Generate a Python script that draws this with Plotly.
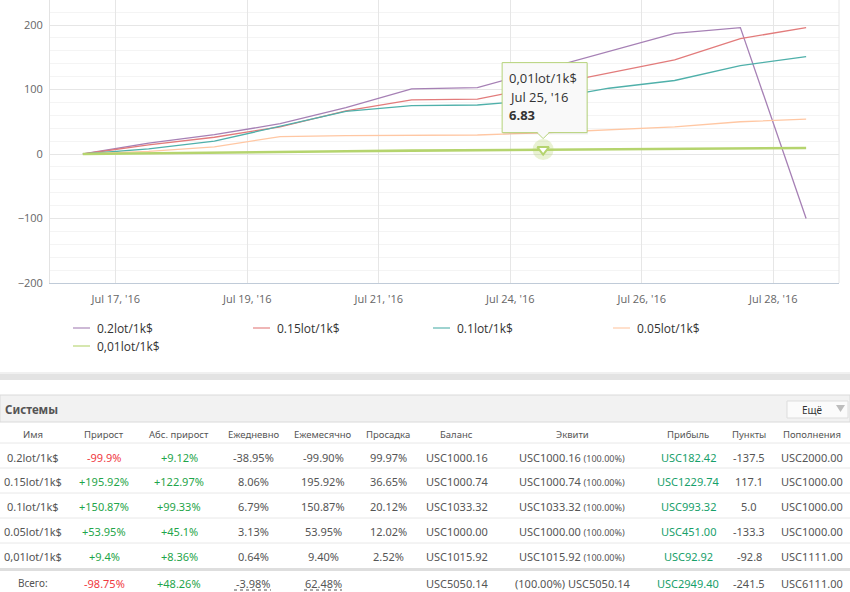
import plotly.graph_objects as go

# ---------------- data ----------------
point_index = list(range(12))
tick_pos = [0.5, 2.5, 4.5, 6.5, 8.5, 10.5]
tick_labels = ["Jul 17, '16", "Jul 19, '16", "Jul 21, '16", "Jul 24, '16", "Jul 26, '16", "Jul 28, '16"]

series_names = ["0.2lot/1k$", "0.15lot/1k$", "0.1lot/1k$", "0.05lot/1k$", "0,01lot/1k$"]
series_colors = ["#a680b5", "#e27b7b", "#4fb0aa", "#ffc7a3", "#b5d46e"]
s_02 = [0, 17, 30, 47, 72, 101, 103, 131, 159, 187, 196, -99.9]
s_015 = [0, 14, 26, 42, 67, 84, 85, 105, 125, 146, 179, 195.9]
s_01 = [0, 8, 20, 43, 66, 75, 76, 84, 102, 114, 137, 150.9]
s_005 = [0, 4, 11, 27, 28.5, 29.5, 29.5, 33, 37, 42, 50, 54]
s_001 = [0, 0.8, 1.8, 3, 4.2, 5.3, 6, 6.83, 7.3, 7.9, 8.6, 9.4]
series_values = [s_02, s_015, s_01, s_005, s_001]

tooltip_index = 7
tooltip_date = "Jul 25, '16"

headers = ["Имя", "Прирост", "Абс. прирост", "Ежедневно", "Ежемесячно", "Просадка",
           "Баланс", "Эквити", "Прибыль", "Пункты", "Пополнения"]
names = ["0.2lot/1k$", "0.15lot/1k$", "0.1lot/1k$", "0.05lot/1k$", "0,01lot/1k$"]
gain = ["-99.9%", "+195.92%", "+150.87%", "+53.95%", "+9.4%"]
abs_gain = ["+9.12%", "+122.97%", "+99.33%", "+45.1%", "+8.36%"]
daily = ["-38.95%", "8.06%", "6.79%", "3.13%", "0.64%"]
monthly = ["-99.90%", "195.92%", "150.87%", "53.95%", "9.40%"]
drawdown = ["99.97%", "36.65%", "20.12%", "12.02%", "2.52%"]
balance = ["USC1000.16", "USC1000.74", "USC1033.32", "USC1000.00", "USC1015.92"]
equity = ["USC1000.16", "USC1000.74", "USC1033.32", "USC1000.00", "USC1015.92"]
equity_pct = ["(100.00%)", "(100.00%)", "(100.00%)", "(100.00%)", "(100.00%)"]
profit = ["USC182.42", "USC1229.74", "USC993.32", "USC451.00", "USC92.92"]
pips = ["-137.5", "117.1", "5.0", "-133.3", "-92.8"]
deposits = ["USC2000.00", "USC1000.00", "USC1000.00", "USC1000.00", "USC1111.00"]
totals = ["Всего:", "-98.75%", "+48.26%", "-3.98%", "62.48%", "", "USC5050.14",
          "(100.00%) USC5050.14", "USC2949.40", "-241.5", "USC6111.00"]

# ---------------- layout helpers ----------------
W, H = 850, 592
def px(x):
    return x / W
def py(y):
    return 1 - y / H

RED = "#f0393f"
GREEN = "#1fa54a"
PROFIT = "#17a06a"
TXT = "#555555"
TFONT = "Noto Sans, sans-serif"
DATA_SIZE = 11
HEAD_SIZE = 9.5

fig = go.Figure()

for name, color, vals in zip(series_names, series_colors, series_values):
    hovered = name == series_names[4]
    fig.add_trace(go.Scatter(
        x=point_index, y=vals, mode="lines", name=name,
        line=dict(color=color, width=2.6 if hovered else 1.3),
        showlegend=False, hoverinfo="skip"))

# hovered point: halo + marker
fig.add_trace(go.Scatter(
    x=[point_index[tooltip_index]], y=[s_001[tooltip_index]], mode="markers",
    marker=dict(symbol="circle", size=21, color=series_colors[4], opacity=0.3,
                line=dict(width=0)),
    showlegend=False, hoverinfo="skip"))
fig.add_trace(go.Scatter(
    x=[point_index[tooltip_index]], y=[s_001[tooltip_index]], mode="markers",
    marker=dict(symbol="triangle-down", size=10, color="#ffffff",
                line=dict(color=series_colors[4], width=2)),
    showlegend=False, hoverinfo="skip"))

shapes = []
annotations = []

# right plot border
shapes.append(dict(type="line", xref="paper", yref="paper",
                   x0=px(839), x1=px(839), y0=py(283), y1=1,
                   line=dict(color="#e6e6e6", width=1)))

# tooltip box (pixel-sized, anchored to the hovered point)
tx, ty = point_index[tooltip_index], s_001[tooltip_index]
shapes.append(dict(type="rect", xref="x", yref="y", xsizemode="pixel", ysizemode="pixel",
                   xanchor=tx, yanchor=ty, x0=-40, x1=45, y0=15, y1=86,
                   fillcolor="rgba(0,0,0,0.06)", line=dict(width=0)))
shapes.append(dict(type="rect", xref="x", yref="y", xsizemode="pixel", ysizemode="pixel",
                   xanchor=tx, yanchor=ty, x0=-41, x1=44, y0=17, y1=87,
                   fillcolor="#f9f9f9", line=dict(color="#b5d37a", width=1)))
shapes.append(dict(type="path", xref="x", yref="y", xsizemode="pixel", ysizemode="pixel",
                   xanchor=tx, yanchor=ty, path="M -6 17 L 0 11 L 6 17",
                   fillcolor="#f9f9f9", line=dict(color="#b5d37a", width=1)))
shapes.append(dict(type="line", xref="x", yref="y", xsizemode="pixel", ysizemode="pixel",
                   xanchor=tx, yanchor=ty, x0=-5, x1=5, y0=17, y1=17,
                   line=dict(color="#f9f9f9", width=1.5)))
for shift, txt in [(72, series_names[4]), (53, tooltip_date), (35, "<b>%.2f</b>" % ty)]:
    annotations.append(dict(x=tx, y=ty, xref="x", yref="y", text=txt, showarrow=False,
                            xanchor="left", yanchor="middle", xshift=-36, yshift=shift,
                            font=dict(family="Open Sans", size=13, color="#333333")))

# legend (drawn manually to match compact symbols)
for i, (name, color) in enumerate(zip(series_names, series_colors)):
    col, row = i % 4, i // 4
    sx = 73 + 180 * col
    yy = 328 + 18 * row
    shapes.append(dict(type="line", xref="paper", yref="paper",
                       x0=px(sx), x1=px(sx + 17), y0=py(yy), y1=py(yy),
                       line=dict(color=color, width=2), opacity=0.55))
    annotations.append(dict(x=px(sx + 22), y=py(yy), xref="paper", yref="paper",
                            text=name, showarrow=False, xanchor="left", yanchor="middle",
                            font=dict(family="Open Sans", size=12, color="#333333")))

# ---------------- table ----------------
# separator shadow
shapes.append(dict(type="rect", xref="paper", yref="paper", x0=0, x1=1,
                   y0=py(380), y1=py(374), fillcolor="#e3e3e3", line=dict(width=0)))
shapes.append(dict(type="rect", xref="paper", yref="paper", x0=0, x1=1,
                   y0=py(374), y1=py(372), fillcolor="#f0f0f0", line=dict(width=0)))
# header band
shapes.append(dict(type="rect", xref="paper", yref="paper", x0=0, x1=1,
                   y0=py(422), y1=py(395), fillcolor="#f2f2f2",
                   line=dict(color="#dadada", width=1)))
annotations.append(dict(x=px(3), y=py(409), xref="paper", yref="paper",
                        text="<b>Системы</b>", showarrow=False, xanchor="left", yanchor="middle",
                        font=dict(family=TFONT, size=11.5, color="#555555")))
# "Ещё" button
shapes.append(dict(type="rect", xref="paper", yref="paper", x0=px(787), x1=px(848),
                   y0=py(418), y1=py(401), fillcolor="#fbfbfb",
                   line=dict(color="#dddddd", width=1)))
shapes.append(dict(type="path", xref="paper", yref="paper",
                   path="M %f %f L %f %f L %f %f Z" % (px(836), py(405), px(845), py(405),
                                                      px(840.5), py(412)),
                   fillcolor="#bdbdbd", line=dict(width=0)))
annotations.append(dict(x=px(812), y=py(409.5), xref="paper", yref="paper", text="Ещё",
                        showarrow=False, xanchor="center", yanchor="middle",
                        font=dict(family=TFONT, size=10, color="#333333")))

col_x = [33, 104, 179, 253, 323, 388, 457, 572, 688, 749, 812]
header_y = 434
row_y = [457, 481.5, 506.5, 531, 556]
total_y = 583
line_y = [443, 468, 493, 518, 543]

for hx, h in zip(col_x, headers):
    annotations.append(dict(x=px(hx), y=py(header_y), xref="paper", yref="paper", text=h,
                            showarrow=False, xanchor="center", yanchor="middle",
                            font=dict(family=TFONT, size=HEAD_SIZE, color=TXT)))
for ly in line_y:
    shapes.append(dict(type="line", xref="paper", yref="paper", x0=0, x1=1,
                       y0=py(ly), y1=py(ly), line=dict(color="#e8e8e8", width=1)))
shapes.append(dict(type="line", xref="paper", yref="paper", x0=0, x1=1,
                   y0=py(569.5), y1=py(569.5), line=dict(color="#dedede", width=3)))

def sign_color(v):
    return RED if v.startswith("-") else GREEN

for r in range(len(names)):
    cells = [
        (names[r], TXT),
        (gain[r], sign_color(gain[r])),
        (abs_gain[r], sign_color(abs_gain[r])),
        (daily[r], TXT),
        (monthly[r], TXT),
        (drawdown[r], TXT),
        (balance[r], TXT),
        (equity[r] + " <span style='font-size:9px'>" + equity_pct[r] + "</span>", TXT),
        (profit[r], PROFIT),
        (pips[r], TXT),
        (deposits[r], TXT),
    ]
    for cx, (txt, c) in zip(col_x, cells):
        annotations.append(dict(x=px(cx), y=py(row_y[r]), xref="paper", yref="paper",
                                text=txt, showarrow=False, xanchor="center", yanchor="middle",
                                font=dict(family=TFONT, size=DATA_SIZE, color=c)))

total_colors = [TXT, RED, GREEN, TXT, TXT, TXT, TXT, TXT, PROFIT, TXT, TXT]
for i, (cx, txt, c) in enumerate(zip(col_x, totals, total_colors)):
    if not txt:
        continue
    size = 10 if i == 0 else DATA_SIZE
    annotations.append(dict(x=px(cx), y=py(total_y), xref="paper", yref="paper",
                            text=txt, showarrow=False, xanchor="center", yanchor="middle",
                            font=dict(family=TFONT, size=size, color=c)))
# dotted underline for daily / monthly totals
for x0, x1 in [(234, 271), (304, 342)]:
    shapes.append(dict(type="line", xref="paper", yref="paper", x0=px(x0), x1=px(x1),
                       y0=py(590), y1=py(590), line=dict(color="#555555", width=1, dash="dot")))

fig.update_layout(
    width=W, height=H,
    margin=dict(l=0, r=0, t=0, b=0),
    paper_bgcolor="#ffffff", plot_bgcolor="#ffffff",
    shapes=shapes, annotations=annotations,
    hovermode=False,
    xaxis=dict(domain=[px(50), px(839)], range=[-0.5, 11.5],
               tickmode="array", tickvals=tick_pos, ticktext=tick_labels,
               showgrid=True, gridcolor="#e6e6e6", gridwidth=1,
               showline=True, linecolor="#c0cbd8", linewidth=1,
               zeroline=False, ticks="", automargin=False,
               ticklabelstandoff=6,
               tickfont=dict(family="Open Sans", size=11, color="#666666")),
    yaxis=dict(domain=[py(283), 1], range=[-200, 238.8],
               tickmode="linear", tick0=0, dtick=100,
               showgrid=True, gridcolor="#e6e6e6", gridwidth=1,
               minor=dict(dtick=20, showgrid=True, gridcolor="#f4f4f4", gridwidth=1),
               showline=True, linecolor="#e3e3e3", linewidth=1,
               zeroline=False, ticks="", automargin=False,
               ticklabelstandoff=4,
               tickfont=dict(family="Open Sans", size=11, color="#666666")),
)

fig.write_html("out.html")
